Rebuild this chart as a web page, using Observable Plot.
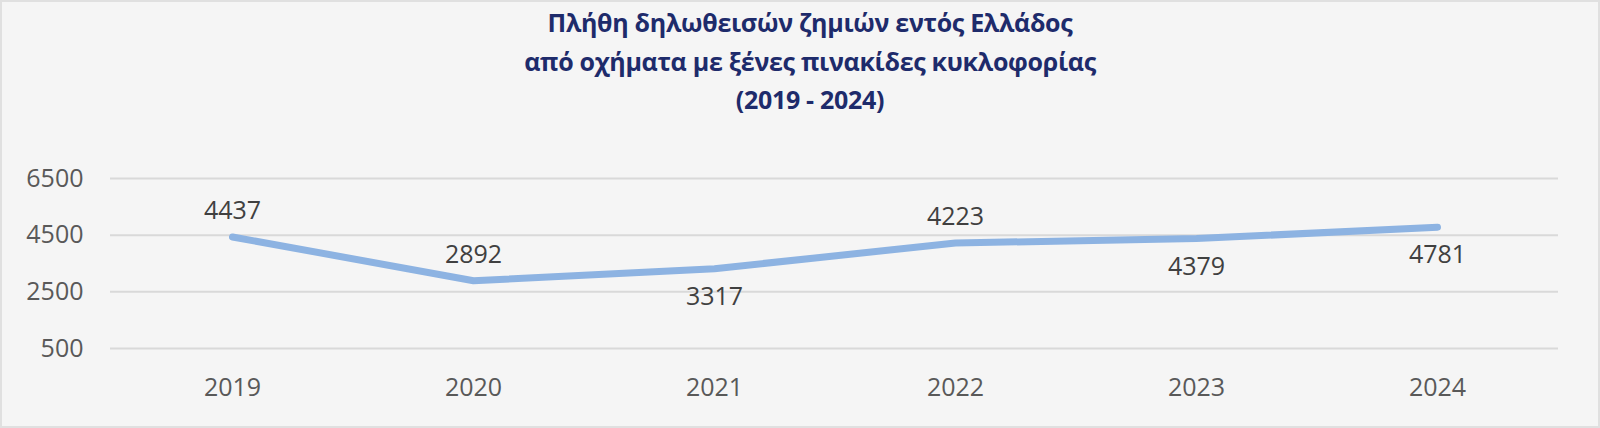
<!DOCTYPE html>
<html>
<head>
<meta charset="utf-8">
<script src="https://cdn.jsdelivr.net/npm/d3@7"></script>
<script src="https://cdn.jsdelivr.net/npm/@observablehq/plot@0.6"></script>
<style>
  html, body { margin: 0; padding: 0; background: #f5f5f5; }
  #wrap { position: relative; width: 1600px; height: 428px; background: #f5f5f5; box-shadow: inset 0 0 0 2px #e0e0e0; overflow: hidden; }
  #title { position: absolute; left: 20px; top: 3px; width: 1580px; text-align: center; font-family: "Open Sans", sans-serif; font-weight: 700; font-size: 25px; letter-spacing: -0.3px; line-height: 38.5px; color: #1e2b6b; }
  #chart { position: absolute; left: 0; top: 130px; }
  #chart svg { background: transparent; }
</style>
</head>
<body>
<div id="wrap">
  <div id="title">Πλήθη δηλωθεισών ζημιών εντός Ελλάδος<br>από οχήματα με ξένες πινακίδες κυκλοφορίας<br>(2019 - 2024)</div>
  <div id="chart"></div>
</div>
<script>
const years = ["2019", "2020", "2021", "2022", "2023", "2024"];
const claims = [4437, 2892, 3317, 4223, 4379, 4781];
const labelPlacement = ["above", "above", "below", "above", "below", "below"];
const yTicks = [500, 2500, 4500, 6500];

const data = years.map((y, i) => ({year: y, value: claims[i], place: labelPlacement[i]}));

const font = "'Open Sans', sans-serif";
const chart = Plot.plot({
  width: 1600,
  height: 298,
  marginLeft: 110,
  marginRight: 42,
  marginTop: 48,
  marginBottom: 80,
  style: {background: "transparent", fontFamily: font, fontSize: "25px", color: "#595959"},
  x: {type: "point", domain: years, padding: 0.5, label: null},
  y: {domain: [500, 6500], ticks: yTicks, label: null},
  marks: [
    Plot.gridY(yTicks, {stroke: "#d9d9d9", strokeOpacity: 1, strokeWidth: 2}),
    Plot.axisY({ticks: yTicks, tickSize: 0, tickPadding: 27, label: null, fontSize: 25, fill: "#595959", tickFormat: d => String(d)}),
    Plot.axisX({tickSize: 0, tickPadding: 30, label: null, fontSize: 25, fill: "#595959"}),
    Plot.line(data, {x: "year", y: "value", stroke: "#8db3e2", strokeWidth: 7, strokeLinecap: "round", strokeLinejoin: "round"}),
    Plot.text(data.filter(d => d.place === "above"), {x: "year", y: "value", text: d => String(d.value), dy: -26, fontSize: 25, fill: "#404040"}),
    Plot.text(data.filter(d => d.place === "below"), {x: "year", y: "value", text: d => String(d.value), dy: 28, fontSize: 25, fill: "#404040"})
  ]
});
document.getElementById("chart").appendChild(chart);
</script>
</body>
</html>
